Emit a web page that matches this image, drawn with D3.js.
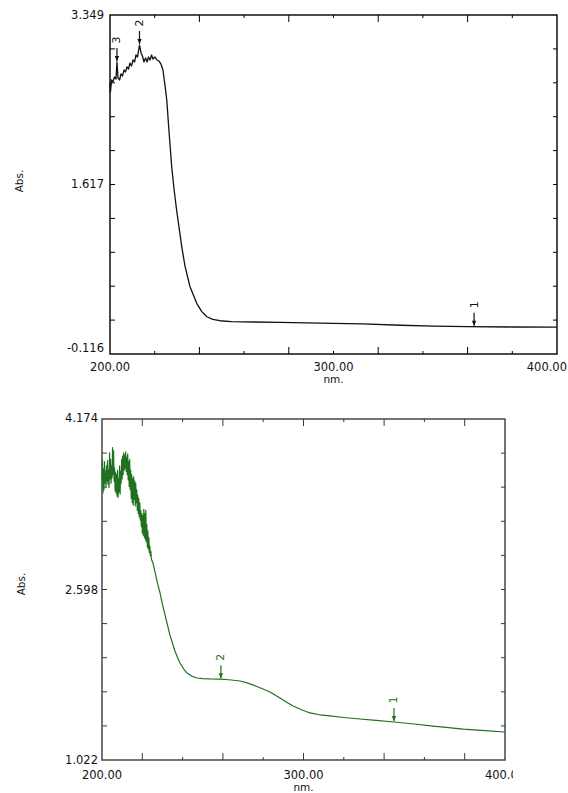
<!DOCTYPE html>
<html>
<head>
<meta charset="utf-8">
<script src="https://cdn.jsdelivr.net/npm/d3@7"></script>
<style>
  html, body { margin: 0; padding: 0; background: #fff; overflow: hidden; }
  text { font-family: "DejaVu Sans", Arial, sans-serif; }
</style>
</head>
<body>
<svg id="chart" width="568" height="793"></svg>
<script>
// ---- Spectrum 1 (black): wavelength (nm) and absorbance ----
const topNm = [200.0, 200.2, 200.7, 201.3, 202.0, 202.7, 203.1, 203.6, 204.3, 204.9,
  205.6, 206.3, 206.9, 207.6, 208.3, 208.9, 209.6, 210.3, 211.0, 211.6,
  212.3, 213.2, 213.9, 214.5, 215.2, 215.9, 216.6, 217.2, 217.9, 218.6,
  219.2, 220.1, 221.0, 221.9, 222.8, 223.7, 224.6, 225.4, 226.5, 227.6,
  228.7, 229.8, 231.0, 232.1, 233.6, 235.8, 238.8, 241.0, 243.3, 246.0,
  249.2, 254.4, 276, 300, 313, 330, 345, 360, 380, 400];
const topAbs = [2.654, 2.562, 2.685, 2.665, 2.715, 2.695, 2.869, 2.705, 2.685, 2.746,
  2.726, 2.787, 2.767, 2.818, 2.797, 2.858, 2.828, 2.889, 2.869, 2.940,
  2.920, 3.042, 2.961, 2.930, 2.869, 2.910, 2.869, 2.920, 2.889, 2.940,
  2.899, 2.920, 2.889, 2.879, 2.848, 2.787, 2.633, 2.480, 2.130, 1.798,
  1.560, 1.356, 1.160, 0.981, 0.777, 0.572, 0.402, 0.320, 0.265, 0.238,
  0.224, 0.214, 0.208, 0.198, 0.192, 0.178, 0.168, 0.163, 0.160, 0.158];
const topYTicks = [3.349, 1.617, -0.116];
const topMarkerNm = [362.9, 213.2, 203.1];
const topMarkerLabels = ["1", "2", "3"];

// ---- Spectrum 2 (green): wavelength (nm) and absorbance ----
const botNm = [200.00, 200.25, 200.50, 200.75, 201.00, 201.25, 201.50, 201.75, 202.00, 202.25,
  202.50, 202.75, 203.00, 203.25, 203.50, 203.75, 204.00, 204.25, 204.50, 204.75,
  205.00, 205.25, 205.50, 205.75, 206.00, 206.25, 206.50, 206.75, 207.00, 207.25,
  207.50, 207.75, 208.00, 208.25, 208.50, 208.75, 209.00, 209.25, 209.50, 209.75,
  210.00, 210.25, 210.50, 210.75, 211.00, 211.25, 211.50, 211.75, 212.00, 212.25,
  212.50, 212.75, 213.00, 213.25, 213.50, 213.75, 214.00, 214.25, 214.50, 214.75,
  215.00, 215.25, 215.50, 215.75, 216.00, 216.25, 216.50, 216.75, 217.00, 217.25,
  217.50, 217.75, 218.00, 218.25, 218.50, 218.75, 219.00, 219.25, 219.50, 219.75,
  220.00, 220.25, 220.50, 220.75, 221.00, 221.25, 221.50, 221.75, 222.00, 222.25,
  222.50, 222.75, 223.00, 223.25, 223.50, 223.75, 224.00, 224.25, 224.50,
  225.3, 226.3, 227.5, 228.8, 230.0, 231.3, 232.5, 233.7, 235.0, 236.2,
  237.5, 238.7, 240.5, 242.2, 244.5, 247.1, 250, 253.6, 258.6, 263,
  268.5, 272, 274.9, 279, 283.4, 288.3, 291.5, 294.8, 299, 303.2,
  308, 313.2, 320, 328, 336, 344.9, 355, 364.3, 372, 379.2, 390, 400];
const botAbs = [3.62, 3.80, 3.49, 3.71, 3.52, 3.78, 3.58, 3.69, 3.55, 3.74,
  3.60, 3.79, 3.57, 3.70, 3.54, 3.86, 3.62, 3.80, 3.58, 3.74,
  3.63, 3.91, 3.66, 3.88, 3.60, 3.72, 3.51, 3.68, 3.49, 3.66,
  3.46, 3.70, 3.45, 3.62, 3.50, 3.74, 3.48, 3.69, 3.58, 3.80,
  3.62, 3.83, 3.66, 3.86, 3.70, 3.84, 3.72, 3.87, 3.69, 3.82,
  3.66, 3.85, 3.61, 3.78, 3.55, 3.80, 3.52, 3.70, 3.44, 3.66,
  3.40, 3.62, 3.38, 3.64, 3.43, 3.60, 3.37, 3.58, 3.40, 3.52,
  3.33, 3.47, 3.30, 3.44, 3.27, 3.40, 3.24, 3.33, 3.18, 3.30,
  3.12, 3.28, 3.10, 3.34, 3.08, 3.30, 3.06, 3.33, 3.04, 3.20,
  2.99, 3.14, 2.97, 3.08, 2.94, 3.00, 2.91, 2.95, 2.88,
  2.84, 2.76, 2.66, 2.566, 2.46, 2.362, 2.27, 2.178, 2.10, 2.030,
  1.97, 1.919, 1.865, 1.826, 1.798, 1.780, 1.774, 1.771, 1.770, 1.764,
  1.752, 1.735, 1.716, 1.685, 1.651, 1.595, 1.558, 1.521, 1.487, 1.457,
  1.440, 1.429, 1.415, 1.401, 1.388, 1.373, 1.355, 1.336, 1.322, 1.308, 1.294, 1.281];
const botYTicks = [4.174, 2.598, 1.022];
const botMarkerNm = [344.9, 259.0];
const botMarkerLabels = ["1", "2"];

// ---- shared x-axis labels ----
const xTickValues = [200, 300, 400];
const xTickLabels = ["200.00", "300.00", "400.00"];
const xMinorStep = 20;
const xAxisTitle = "nm.";
const yAxisTitle = "Abs.";

const svg = d3.select("#chart");
const W = 568;

function drawPanel(cfg) {
  const g = svg.append("g");
  const x = d3.scaleLinear().domain([200, 400]).range([cfg.left, cfg.right]);
  const y = d3.scaleLinear().domain([cfg.yMin, cfg.yMax]).range([cfg.bottom, cfg.top]);

  // inward tick marks on all four sides
  const xMinor = d3.range(200, 400 + 1e-9, xMinorStep).slice(1, -1);
  xMinor.forEach(v => {
    const k = Math.round((v - 200) / xMinorStep);
    const len = (k % 2 === cfg.longParity) ? 7 : 3;
    g.append("line").attr("x1", x(v)).attr("x2", x(v))
      .attr("y1", cfg.bottom).attr("y2", cfg.bottom - len)
      .attr("stroke", cfg.frame).attr("stroke-width", 1);
    g.append("line").attr("x1", x(v)).attr("x2", x(v))
      .attr("y1", cfg.top).attr("y2", cfg.top + len)
      .attr("stroke", cfg.frame).attr("stroke-width", 1);
  });
  const yMinor = d3.range(1, 10).map(i => cfg.yMin + i * (cfg.yMax - cfg.yMin) / 10);
  yMinor.forEach(v => {
    g.append("line").attr("x1", cfg.left).attr("x2", cfg.left + 5)
      .attr("y1", y(v)).attr("y2", y(v)).attr("stroke", cfg.frame).attr("stroke-width", 1);
    g.append("line").attr("x1", cfg.right).attr("x2", cfg.right - 4)
      .attr("y1", y(v)).attr("y2", y(v)).attr("stroke", cfg.frame).attr("stroke-width", 1);
  });

  // frame
  g.append("rect").attr("x", cfg.left).attr("y", cfg.top)
    .attr("width", cfg.right - cfg.left).attr("height", cfg.bottom - cfg.top)
    .attr("fill", "none").attr("stroke", cfg.frame).attr("stroke-width", 1.4);

  // y tick labels
  cfg.yTicks.forEach((v, i) => {
    g.append("text").attr("x", cfg.left - cfg.yLabelGap)
      .attr("y", y(v) + cfg.yLabelShift[i])
      .attr("text-anchor", "end").attr("dominant-baseline", "central")
      .attr("font-size", 11.5).attr("fill", "#111").text(v.toFixed(3));
  });

  // x tick labels (the last one is kept inside the page / clipped like the plotter output)
  const clipId = "clip" + cfg.id;
  svg.append("clipPath").attr("id", clipId).append("rect")
    .attr("x", 0).attr("y", 0).attr("width", cfg.labelClip).attr("height", 793);
  const xl = g.append("g").attr("clip-path", `url(#${clipId})`);
  xTickValues.forEach((v, i) => {
    const t = xl.append("text").attr("x", x(v)).attr("y", cfg.bottom + cfg.xLabelOffset)
      .attr("text-anchor", "middle").attr("dominant-baseline", "central")
      .attr("font-size", 11.5).attr("fill", "#111").text(xTickLabels[i]);
    const bb = t.node().getBBox();
    if (bb.x + bb.width > W - 1) {
      t.attr("text-anchor", "end").attr("x", W - 1);
    }
  });

  // axis titles
  g.append("text").attr("x", x(300)).attr("y", cfg.bottom + cfg.xTitleOffset)
    .attr("text-anchor", "middle").attr("dominant-baseline", "central")
    .attr("font-size", 10.5).attr("fill", "#111").text(xAxisTitle);
  g.append("text")
    .attr("transform", `translate(${cfg.yTitleX},${cfg.yTitleY}) rotate(-90)`)
    .attr("text-anchor", "middle").attr("dominant-baseline", "central")
    .attr("font-size", 10.5).attr("fill", "#111").text(yAxisTitle);

  // spectrum line
  const pts = cfg.nm.map((v, i) => [v, cfg.abs[i]]);
  const line = d3.line().x(d => x(d[0])).y(d => y(d[1]));
  g.append("path").datum(pts).attr("d", line)
    .attr("fill", "none").attr("stroke", cfg.color)
    .attr("stroke-width", cfg.lineWidth).attr("stroke-linejoin", "round");

  // peak markers: arrow down onto the curve, rotated index label above
  const bis = d3.bisector(d => d[0]).left;
  function absAt(nm) {
    const i = Math.max(1, Math.min(pts.length - 1, bis(pts, nm)));
    const a = pts[i - 1], b = pts[i];
    const t = (nm - a[0]) / (b[0] - a[0]);
    return a[1] + t * (b[1] - a[1]);
  }
  cfg.markerNm.forEach((nm, i) => {
    const mx = x(nm), tip = y(absAt(nm)) - 1;
    g.append("line").attr("x1", mx).attr("x2", mx)
      .attr("y1", tip - 13).attr("y2", tip)
      .attr("stroke", cfg.color).attr("stroke-width", 1.2);
    g.append("path")
      .attr("d", `M${mx - 2.2},${tip - 5} L${mx + 2.2},${tip - 5} L${mx},${tip} Z`)
      .attr("fill", cfg.color);
    g.append("text")
      .attr("transform", `translate(${mx},${tip - 21}) rotate(-90)`)
      .attr("text-anchor", "middle").attr("dominant-baseline", "central")
      .attr("font-size", 11).attr("fill", cfg.color).text(cfg.markerLabels[i]);
  });
}

drawPanel({
  id: "a", left: 110, right: 557, top: 15, bottom: 354,
  yMin: topYTicks[2], yMax: topYTicks[0], yTicks: topYTicks,
  yLabelGap: 6, yLabelShift: [0, 0, -6],
  xLabelOffset: 13, xTitleOffset: 25, labelClip: 568,
  yTitleX: 19, yTitleY: 181,
  nm: topNm, abs: topAbs, markerNm: topMarkerNm, markerLabels: topMarkerLabels,
  color: "#111", frame: "#000", lineWidth: 1.3, longParity: 0
});

drawPanel({
  id: "b", left: 102, right: 505, top: 419, bottom: 760,
  yMin: botYTicks[2], yMax: botYTicks[0], yTicks: botYTicks,
  yLabelGap: 4, yLabelShift: [-1, 0, 0],
  xLabelOffset: 15, xTitleOffset: 27, labelClip: 513,
  yTitleX: 21, yTitleY: 584,
  nm: botNm, abs: botAbs, markerNm: botMarkerNm, markerLabels: botMarkerLabels,
  color: "#1f701f", frame: "#3a3a3a", lineWidth: 1.2, longParity: 1
});
</script>
</body>
</html>
